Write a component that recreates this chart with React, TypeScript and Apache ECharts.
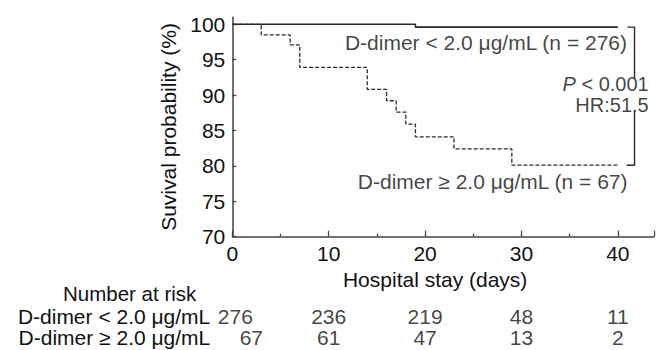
import React, { useEffect, useRef } from 'react';
import * as echarts from 'echarts';

// Kaplan-Meier steps
const lowDays = [0, 19, 40];
const lowSurv = [100, 99.6, 99.6];
const highDays = [0, 3, 6, 7, 14, 16, 17, 18, 19, 23, 29, 40];
const highSurv = [100, 98.5, 97.1, 93.9, 90.8, 89.2, 87.6, 85.9, 84.1, 82.4, 80.1, 80.1];

// Number at risk table
const riskTimes = [0, 10, 20, 30, 40];
const riskLow = [276, 236, 219, 48, 11];
const riskHigh = [67, 61, 47, 13, 2];
const groupLabels = ['D-dimer < 2.0 μg/mL', 'D-dimer ≥ 2.0 μg/mL'];

// Texts
const lowCurveLabel = 'D-dimer < 2.0 μg/mL (n = 276)';
const highCurveLabel = 'D-dimer ≥ 2.0 μg/mL (n = 67)';
const pText = '{i|P} < 0.001';
const hrText = 'HR:51.5';
const yName = 'Suvival probability (%)';
const xName = 'Hospital stay (days)';
const riskTitle = 'Number at risk';

const FONT = "'Liberation Sans', Arial, Helvetica, sans-serif";
const FS = 21;
const TXT = '#111';

export default function App() {
  const ref = useRef<HTMLDivElement>(null);
  useEffect(() => {
    if (!ref.current) return;
    const chart = echarts.init(ref.current, undefined, { renderer: 'svg' });
    const gridLeft = 232.3;
    const gridWidth = 421.7;
    const xMax = 43.75;
    const txt = { fontFamily: FONT, fontSize: FS, color: TXT };
    const annot = (x: number, y: number, t: string, fs: number = FS) => ({
      value: [x, y],
      label: {
        show: true,
        position: 'left',
        distance: 0,
        formatter: t,
        ...txt,
        fontSize: fs,
        lineHeight: 18,
        rich: { i: { fontStyle: 'italic', fontFamily: FONT, fontSize: fs, color: TXT, lineHeight: 18 } },
      },
    });
    const riskData: any[] = [];
    riskTimes.forEach((t, i) => {
      riskData.push({
        value: [t, groupLabels[0], riskLow[i]],
        label: i === 0 ? { offset: [3, 0] } : undefined,
      });
      riskData.push({
        value: [t, groupLabels[1], riskHigh[i]],
        label: i === 0 ? { offset: [19, 0] } : undefined,
      });
    });
    chart.setOption({
      animation: false,
      textStyle: { fontFamily: FONT },
      grid: [
        { left: gridLeft, width: gridWidth, top: 17.2, height: 219.5, outerBoundsMode: 'none' },
        { left: gridLeft, width: gridWidth, top: 305.5, height: 42, outerBoundsMode: 'none' },
      ],
      xAxis: [
        {
          type: 'value',
          gridIndex: 0,
          min: 0,
          max: xMax,
          interval: 10,
          splitLine: { show: false },
          axisLine: { lineStyle: { color: '#444', width: 1.5 } },
          axisTick: { inside: true, length: 6, lineStyle: { color: '#444', width: 1.3 } },
          minorTick: { show: true, splitNumber: 2, length: 3, lineStyle: { color: '#444', width: 1.3 } },
          axisLabel: { ...txt, margin: 6, showMaxLabel: false, formatter: (v: number) => (v % 10 === 0 ? String(v) : '') },
          name: xName,
          nameLocation: 'middle',
          nameGap: 17,
          nameTextStyle: { ...txt, padding: [0, 16, 0, 0] },
        },
        { type: 'value', gridIndex: 1, min: 0, max: xMax, show: false },
      ],
      yAxis: [
        {
          type: 'value',
          gridIndex: 0,
          min: 70,
          max: 101,
          interval: 5,
          splitLine: { show: false },
          axisLine: { show: true, lineStyle: { color: '#444', width: 1.5 } },
          axisTick: { show: true, inside: true, length: 4, lineStyle: { color: '#444', width: 1.3 } },
          axisLabel: { ...txt, margin: 7, showMaxLabel: false },
          name: yName,
          nameLocation: 'middle',
          nameGap: 45,
          nameTextStyle: { ...txt },
        },
        {
          type: 'category',
          gridIndex: 1,
          inverse: true,
          data: groupLabels,
          axisLine: { show: false },
          axisTick: { show: false },
          axisLabel: { ...txt, margin: 22, interval: 0, lineHeight: 19 },
        },
      ],
      graphic: [
        {
          type: 'text',
          left: 63,
          top: 282.5,
          style: { text: riskTitle, font: `20.5px ${FONT}`, fill: TXT, lineHeight: 18 },
        },
      ],
      series: [
        {
          type: 'line',
          xAxisIndex: 0,
          yAxisIndex: 0,
          step: 'end',
          symbol: 'none',
          data: lowDays.map((d, i) => [d, lowSurv[i]]),
          lineStyle: { color: '#2a2a2a', width: 1.6 },
        },
        {
          type: 'line',
          xAxisIndex: 0,
          yAxisIndex: 0,
          step: 'end',
          symbol: 'none',
          data: highDays.map((d, i) => [d, highSurv[i]]),
          lineStyle: { color: '#2a2a2a', width: 1.3, type: [4, 2] },
        },
        {
          type: 'line',
          xAxisIndex: 0,
          yAxisIndex: 0,
          symbol: 'none',
          data: [[41.0, 99.6], [41.73, 99.6], [41.73, 92.3]],
          lineStyle: { color: '#2a2a2a', width: 1.4 },
        },
        {
          type: 'line',
          xAxisIndex: 0,
          yAxisIndex: 0,
          symbol: 'none',
          data: [[41.73, 87.7], [41.73, 80.1], [40.9, 80.1]],
          lineStyle: { color: '#2a2a2a', width: 1.4 },
        },
        {
          type: 'scatter',
          xAxisIndex: 0,
          yAxisIndex: 0,
          symbolSize: 0,
          silent: true,
          data: [
            annot(40.95, 97.4, lowCurveLabel),
            annot(41.0, 77.8, highCurveLabel),
            annot(43.2, 91.55, pText, 20),
            annot(43.2, 88.65, hrText, 20),
          ],
        },
        {
          type: 'scatter',
          xAxisIndex: 1,
          yAxisIndex: 1,
          symbolSize: 0,
          silent: true,
          data: riskData,
          label: {
            show: true,
            position: 'inside',
            formatter: (p: any) => String(p.value[2]),
            ...txt,
          },
        },
      ],
    });
    return () => chart.dispose();
  }, []);
  return (
    <div
      ref={ref}
      style={{ position: 'fixed', left: 0, top: 0, width: 660, height: 350, background: '#fff' }}
    />
  );
}
